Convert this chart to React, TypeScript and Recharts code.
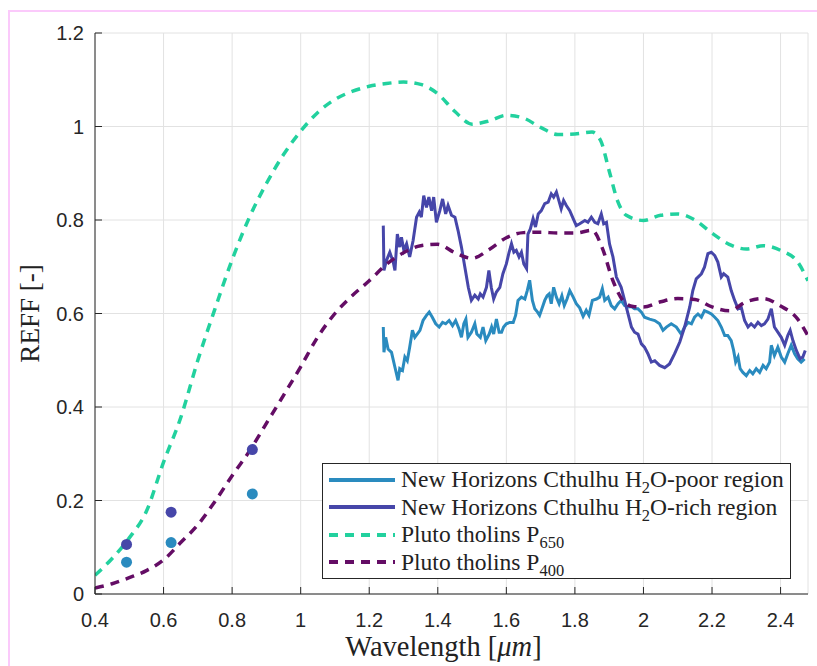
import React from "react";
import {
  ComposedChart,
  Line,
  Scatter,
  XAxis,
  YAxis,
  CartesianGrid,
  Legend,
  Label,
} from "recharts";

// Pluto tholins (dashed curves)
const p650Wl = [0.4, 0.45, 0.5, 0.55, 0.6, 0.65, 0.7, 0.75, 0.8, 0.85, 0.9, 0.95, 1.0, 1.05, 1.1, 1.15, 1.2, 1.25, 1.3, 1.35, 1.4, 1.45, 1.5, 1.55, 1.6, 1.65, 1.7, 1.75, 1.8, 1.85, 1.875, 1.9, 1.925, 1.95, 2.0, 2.05, 2.1, 2.15, 2.2, 2.25, 2.3, 2.35, 2.4, 2.45, 2.48];
const p650Val = [0.04, 0.076, 0.12, 0.177, 0.282, 0.377, 0.5, 0.61, 0.715, 0.805, 0.878, 0.94, 0.99, 1.03, 1.058, 1.075, 1.086, 1.092, 1.095, 1.09, 1.07, 1.032, 1.005, 1.012, 1.024, 1.018, 0.998, 0.983, 0.984, 0.988, 0.97, 0.905, 0.84, 0.81, 0.799, 0.81, 0.813, 0.8, 0.772, 0.748, 0.738, 0.745, 0.735, 0.71, 0.67];

const p400Wl = [0.4, 0.45, 0.5, 0.55, 0.6, 0.65, 0.7, 0.75, 0.8, 0.85, 0.9, 0.95, 1.0, 1.05, 1.1, 1.15, 1.2, 1.25, 1.3, 1.35, 1.4, 1.45, 1.5, 1.55, 1.6, 1.65, 1.7, 1.75, 1.8, 1.85, 1.88, 1.91, 1.94, 1.97, 2.0, 2.05, 2.1, 2.15, 2.2, 2.25, 2.3, 2.35, 2.4, 2.45, 2.48];
const p400Val = [0.013, 0.022, 0.035, 0.05, 0.073, 0.11, 0.148, 0.198, 0.253, 0.305, 0.365, 0.425, 0.486, 0.55, 0.6, 0.638, 0.67, 0.705, 0.73, 0.745, 0.748, 0.73, 0.718, 0.737, 0.762, 0.773, 0.774, 0.772, 0.772, 0.778, 0.74, 0.672, 0.628, 0.615, 0.614, 0.625, 0.632, 0.63, 0.614, 0.606, 0.625, 0.632, 0.616, 0.588, 0.552];

// New Horizons Cthulhu, H2O-rich region
const richWl = [1.241, 1.243, 1.25, 1.26, 1.27, 1.275, 1.282, 1.289, 1.294, 1.301, 1.309, 1.318, 1.328, 1.338, 1.346, 1.352, 1.359, 1.367, 1.374, 1.382, 1.388, 1.396, 1.406, 1.414, 1.423, 1.43, 1.44, 1.45, 1.459, 1.469, 1.479, 1.489, 1.498, 1.508, 1.518, 1.524, 1.532, 1.542, 1.549, 1.556, 1.563, 1.571, 1.581, 1.59, 1.6, 1.608, 1.615, 1.622, 1.629, 1.637, 1.644, 1.651, 1.659, 1.663, 1.67, 1.678, 1.685, 1.693, 1.702, 1.712, 1.722, 1.731, 1.738, 1.746, 1.753, 1.76, 1.767, 1.775, 1.785, 1.795, 1.804, 1.814, 1.829, 1.838, 1.848, 1.858, 1.867, 1.877, 1.884, 1.892, 1.901, 1.911, 1.921, 1.935, 1.945, 1.955, 1.965, 1.974, 1.984, 1.994, 2.003, 2.013, 2.023, 2.033, 2.047, 2.062, 2.076, 2.091, 2.106, 2.12, 2.135, 2.144, 2.154, 2.169, 2.178, 2.188, 2.198, 2.208, 2.217, 2.227, 2.234, 2.246, 2.256, 2.266, 2.276, 2.285, 2.295, 2.305, 2.314, 2.324, 2.334, 2.344, 2.353, 2.363, 2.373, 2.382, 2.392, 2.402, 2.412, 2.421, 2.428, 2.436, 2.446, 2.457, 2.465, 2.472];
const richVal = [0.788, 0.692, 0.713, 0.731, 0.71, 0.692, 0.77, 0.742, 0.763, 0.735, 0.749, 0.721, 0.756, 0.806, 0.817, 0.806, 0.852, 0.827, 0.849, 0.82, 0.849, 0.795, 0.82, 0.845, 0.813, 0.831, 0.81, 0.806, 0.778, 0.742, 0.699, 0.656, 0.628, 0.639, 0.631, 0.642, 0.635, 0.656, 0.692, 0.656, 0.631, 0.646, 0.656, 0.685, 0.706, 0.731, 0.749, 0.731, 0.735, 0.721, 0.731, 0.706, 0.696, 0.77, 0.781, 0.803, 0.785, 0.813, 0.82, 0.835, 0.838, 0.856, 0.849, 0.86, 0.842, 0.824, 0.842, 0.831, 0.82, 0.803, 0.788, 0.792, 0.799, 0.795, 0.806, 0.795, 0.792, 0.813, 0.792, 0.795, 0.749, 0.721, 0.678, 0.656, 0.628, 0.599, 0.571, 0.56, 0.556, 0.535, 0.528, 0.514, 0.496, 0.499, 0.489, 0.484, 0.492, 0.514, 0.539, 0.571, 0.614, 0.649, 0.674, 0.685, 0.699, 0.728, 0.731, 0.724, 0.71, 0.678, 0.685, 0.678, 0.649, 0.628, 0.61, 0.614, 0.585, 0.571, 0.578, 0.571, 0.581, 0.574, 0.578, 0.588, 0.61, 0.571, 0.56, 0.549, 0.532, 0.553, 0.564, 0.542, 0.521, 0.503, 0.507, 0.521];

// New Horizons Cthulhu, H2O-poor region
const poorWl = [1.241, 1.243, 1.248, 1.255, 1.265, 1.275, 1.284, 1.289, 1.297, 1.304, 1.311, 1.318, 1.326, 1.333, 1.34, 1.348, 1.357, 1.367, 1.375, 1.384, 1.394, 1.404, 1.414, 1.423, 1.433, 1.443, 1.452, 1.462, 1.469, 1.476, 1.482, 1.488, 1.498, 1.508, 1.514, 1.524, 1.532, 1.54, 1.55, 1.557, 1.563, 1.571, 1.579, 1.586, 1.592, 1.6, 1.61, 1.62, 1.627, 1.634, 1.644, 1.654, 1.661, 1.668, 1.676, 1.683, 1.691, 1.697, 1.705, 1.712, 1.719, 1.725, 1.731, 1.738, 1.746, 1.754, 1.762, 1.769, 1.777, 1.785, 1.795, 1.804, 1.814, 1.824, 1.833, 1.841, 1.851, 1.863, 1.872, 1.88, 1.887, 1.897, 1.906, 1.916, 1.926, 1.935, 1.945, 1.955, 1.965, 1.974, 1.984, 1.994, 2.003, 2.018, 2.033, 2.047, 2.057, 2.067, 2.081, 2.096, 2.11, 2.12, 2.13, 2.14, 2.149, 2.159, 2.169, 2.178, 2.188, 2.198, 2.208, 2.217, 2.227, 2.237, 2.246, 2.256, 2.263, 2.269, 2.276, 2.282, 2.29, 2.3, 2.31, 2.319, 2.329, 2.339, 2.349, 2.358, 2.368, 2.373, 2.382, 2.392, 2.402, 2.412, 2.421, 2.431, 2.441, 2.45, 2.46, 2.47];
const poorVal = [0.571, 0.517, 0.549, 0.524, 0.517, 0.485, 0.457, 0.482, 0.478, 0.507, 0.499, 0.528, 0.564, 0.549, 0.556, 0.564, 0.585, 0.596, 0.603, 0.592, 0.578, 0.571, 0.581, 0.578, 0.585, 0.574, 0.585, 0.567, 0.549, 0.578, 0.588, 0.549, 0.56, 0.578, 0.556, 0.549, 0.571, 0.542, 0.556, 0.571, 0.556, 0.588, 0.56, 0.56, 0.571, 0.578, 0.581, 0.581, 0.596, 0.628, 0.635, 0.631, 0.649, 0.671, 0.628, 0.61, 0.603, 0.596, 0.613, 0.628, 0.638, 0.642, 0.621, 0.656, 0.635, 0.621, 0.638, 0.617, 0.631, 0.649, 0.635, 0.621, 0.612, 0.594, 0.607, 0.596, 0.628, 0.631, 0.635, 0.653, 0.628, 0.635, 0.617, 0.61, 0.621, 0.628, 0.617, 0.614, 0.615, 0.61, 0.61, 0.603, 0.592, 0.588, 0.585, 0.578, 0.564, 0.571, 0.578, 0.571, 0.556, 0.571, 0.581, 0.578, 0.592, 0.599, 0.592, 0.606, 0.603, 0.599, 0.592, 0.585, 0.571, 0.553, 0.553, 0.542, 0.521, 0.496, 0.507, 0.482, 0.474, 0.467, 0.478, 0.471, 0.482, 0.474, 0.489, 0.482, 0.496, 0.532, 0.51, 0.528, 0.507, 0.496, 0.514, 0.532, 0.514, 0.503, 0.496, 0.503];

// Broadband points
const dotWl = [0.492, 0.622, 0.859];
const richDotVal = [0.106, 0.175, 0.309];
const poorDotVal = [0.068, 0.11, 0.214];

const xTicks = [0.4, 0.6, 0.8, 1, 1.2, 1.4, 1.6, 1.8, 2, 2.2, 2.4];
const yTicks = [0, 0.2, 0.4, 0.6, 0.8, 1, 1.2];

const COLORS = {
  poor: "#2a8bbf",
  rich: "#4646a9",
  p650: "#22d19e",
  p400: "#640d65",
  axis: "#262626",
  grid: "#e2e2e2",
};

const pairs = (xs: number[], ys: number[]) => xs.map((x, i) => ({ x, y: ys[i] }));

const p650Data = pairs(p650Wl, p650Val);
const p400Data = pairs(p400Wl, p400Val);
const richData = pairs(richWl, richVal);
const poorData = pairs(poorWl, poorVal);
const richDots = pairs(dotWl, richDotVal);
const poorDots = pairs(dotWl, poorDotVal);

const SANS = "'Liberation Sans', Arial, sans-serif";
const SERIF = "'Liberation Serif', 'Times New Roman', serif";

const XTick = ({ x, y, payload }: any) => (
  <g>
    <line x1={x} x2={x} y1={y} y2={y - 7} stroke={COLORS.axis} />
    <text x={x} y={y + 33} textAnchor="middle" fontSize={20} fill={COLORS.axis} fontFamily={SANS}>
      {payload.value}
    </text>
  </g>
);

const YTick = ({ x, y, payload }: any) => (
  <g>
    <line x1={x} x2={x + 7} y1={y} y2={y} stroke={COLORS.axis} />
    <text x={x - 11} y={y + 7} textAnchor="end" fontSize={20} fill={COLORS.axis} fontFamily={SANS}>
      {payload.value}
    </text>
  </g>
);

const legendItems = [
  { label: "poor", color: COLORS.poor, dashed: false },
  { label: "rich", color: COLORS.rich, dashed: false },
  { label: "650", color: COLORS.p650, dashed: true },
  { label: "400", color: COLORS.p400, dashed: true },
];

const legendText = (key: string) => {
  const sub = { fontSize: "0.7em", verticalAlign: "-0.35em", lineHeight: 0 } as React.CSSProperties;
  if (key === "poor" || key === "rich")
    return (
      <span>
        New Horizons Cthulhu H<span style={sub}>2</span>O-{key} region
      </span>
    );
  return (
    <span>
      Pluto tholins P<span style={sub}>{key}</span>
    </span>
  );
};

const renderLegend = () => (
  <div
    style={{
      border: `1px solid ${COLORS.axis}`,
      background: "#fff",
      padding: "2px 0",
      width: 469,
      boxSizing: "border-box",
    }}
  >
    {legendItems.map((it) => (
      <div key={it.label} style={{ display: "flex", alignItems: "center", height: 27.5 }}>
        <svg width={78} height={10} style={{ flex: "none" }}>
          <line
            x1={6}
            x2={72}
            y1={5}
            y2={5}
            stroke={it.color}
            strokeWidth={4}
            strokeDasharray={it.dashed ? "9 7" : undefined}
          />
        </svg>
        <span style={{ fontFamily: SERIF, fontSize: 23.5, color: "#222", whiteSpace: "nowrap", lineHeight: "27px" }}>
          {legendText(it.label)}
        </span>
      </div>
    ))}
  </div>
);

export default function App() {
  return (
    <div style={{ position: "absolute", left: 0, top: 0, width: 817, height: 666, background: "#fff" }}>
      <div
        style={{
          position: "absolute",
          left: 8,
          top: 10,
          right: 0,
          bottom: 0,
          borderLeft: "2px solid #fbcafb",
          borderTop: "2px solid #fbcafb",
        }}
      />
      <ComposedChart
        width={817}
        height={666}
        margin={{ top: 33, right: 9, bottom: 42, left: 45 }}
        style={{ position: "absolute", left: 0, top: 0 }}
      >
        <CartesianGrid stroke={COLORS.grid} strokeWidth={1} />
        <XAxis
          type="number"
          dataKey="x"
          domain={[0.4, 2.48]}
          ticks={xTicks}
          allowDataOverflow
          height={30}
          tickSize={0}
          tickMargin={0}
          tick={<XTick />}
          axisLine={{ stroke: COLORS.axis }}
          tickLine={false}
          interval={0}
        >
          <Label
            content={({ viewBox }: any) => (
              <text
                x={viewBox.x + viewBox.width / 2 - 8}
                y={viewBox.y + 62}
                textAnchor="middle"
                fontSize={28.5}
                fontFamily={SERIF}
                fill="#222"
              >
                Wavelength [<tspan fontStyle="italic">μm</tspan>]
              </text>
            )}
          />
        </XAxis>
        <YAxis
          type="number"
          dataKey="y"
          domain={[0, 1.2]}
          ticks={yTicks}
          allowDataOverflow
          width={50}
          tickSize={0}
          tickMargin={0}
          tick={<YTick />}
          axisLine={{ stroke: COLORS.axis }}
          tickLine={false}
          interval={0}
        >
          <Label
            content={({ viewBox }: any) => (
              <text
                x={30}
                y={viewBox.y + viewBox.height / 2}
                textAnchor="middle"
                dominantBaseline="central"
                fontSize={27}
                fontFamily={SERIF}
                fill="#222"
                transform={`rotate(-90, 30, ${viewBox.y + viewBox.height / 2})`}
              >
                REFF [-]
              </text>
            )}
          />
        </YAxis>
        <Line data={poorData} dataKey="y" type="linear" stroke={COLORS.poor} strokeWidth={3} dot={false} isAnimationActive={false} />
        <Line data={richData} dataKey="y" type="linear" stroke={COLORS.rich} strokeWidth={3} dot={false} isAnimationActive={false} />
        <Line data={p650Data} dataKey="y" type="monotone" stroke={COLORS.p650} strokeWidth={3.5} strokeDasharray="9 7" dot={false} isAnimationActive={false} />
        <Line data={p400Data} dataKey="y" type="monotone" stroke={COLORS.p400} strokeWidth={3.5} strokeDasharray="9 7" dot={false} isAnimationActive={false} />
        <Scatter
          data={poorDots}
          dataKey="y"
          isAnimationActive={false}
          shape={(p: any) => <circle cx={p.cx} cy={p.cy} r={5.5} fill={COLORS.poor} />}
        />
        <Scatter
          data={richDots}
          dataKey="y"
          isAnimationActive={false}
          shape={(p: any) => <circle cx={p.cx} cy={p.cy} r={5.5} fill={COLORS.rich} />}
        />
        <Legend
          layout="vertical"
          align="center"
          verticalAlign="middle"
          content={renderLegend}
          wrapperStyle={{ position: "absolute", left: 322, top: 463, width: 469 }}
        />
      </ComposedChart>
    </div>
  );
}
